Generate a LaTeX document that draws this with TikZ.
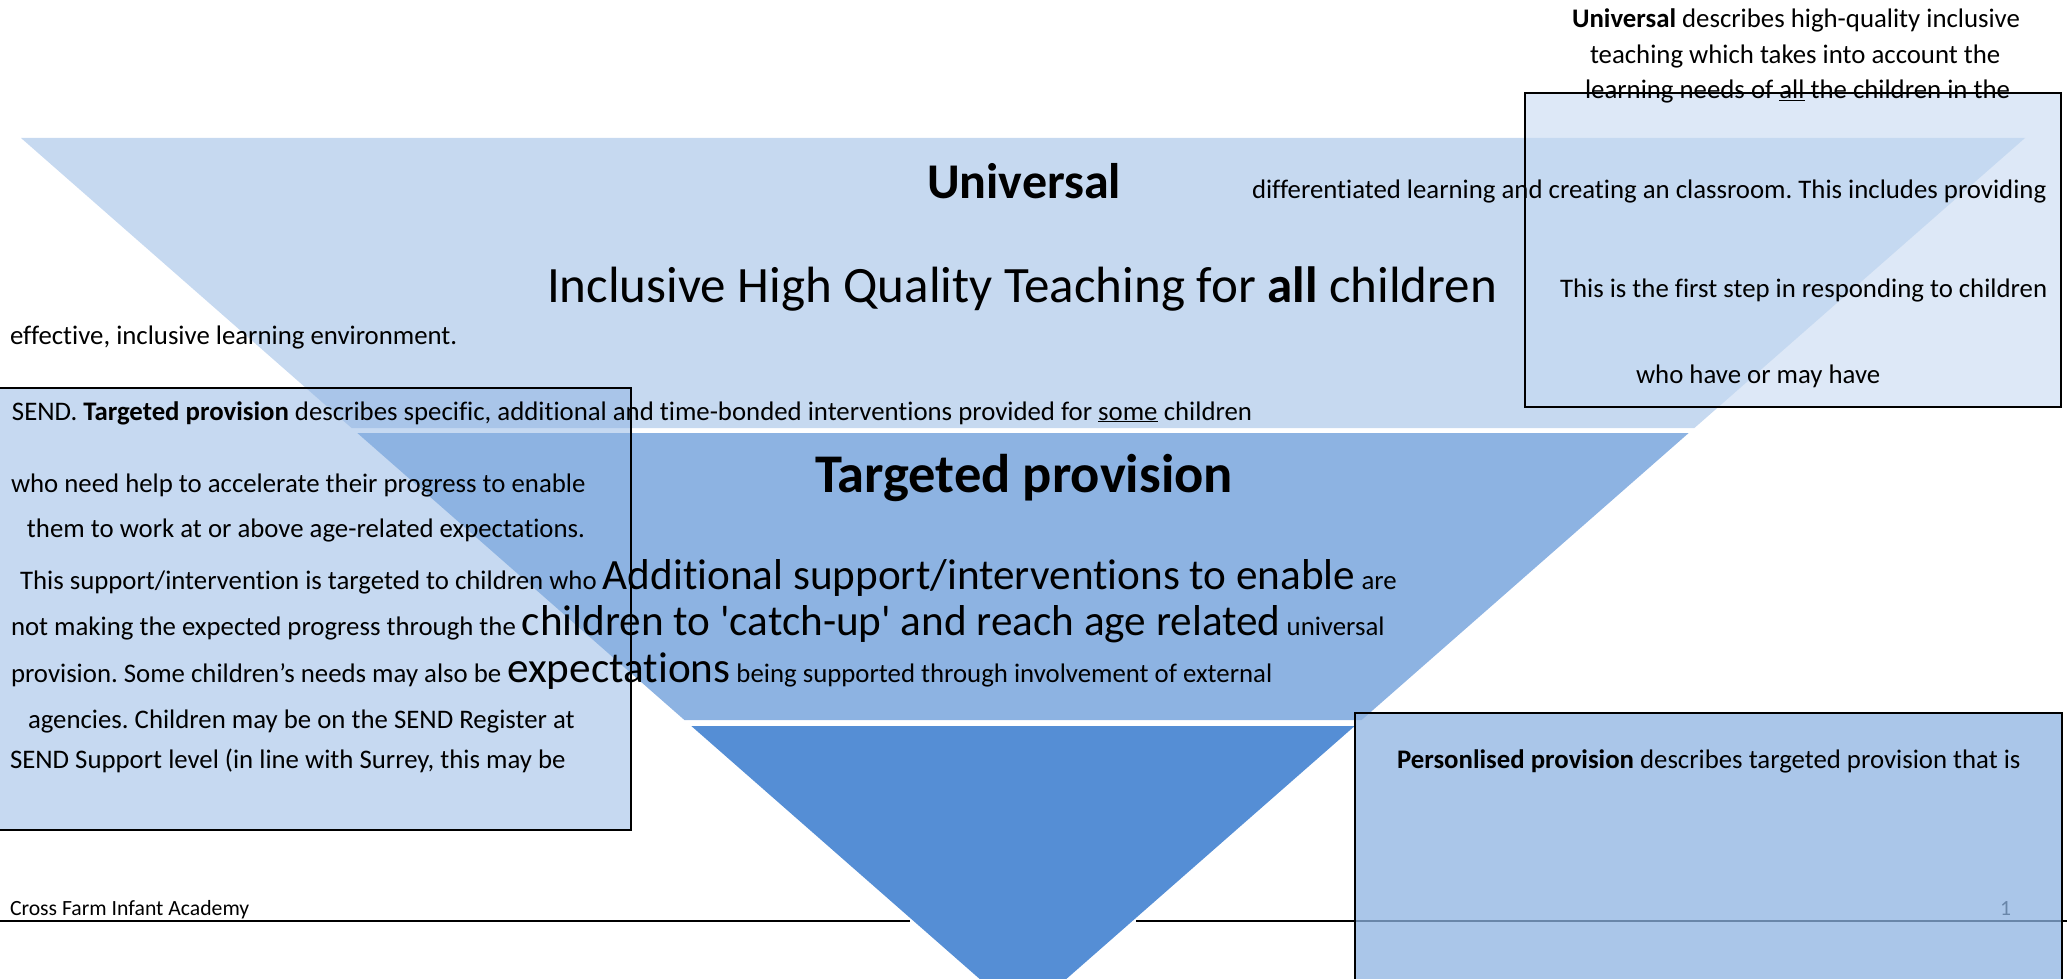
\documentclass[tikz,border=0pt]{standalone}
\usepackage{fontspec}
\setmainfont{Carlito}[Ligatures={TeX,NoCommon}]
\frenchspacing
\definecolor{paleblue}{HTML}{C6D9F1}
\definecolor{midblue}{HTML}{8DB3E2}
\definecolor{deepblue}{HTML}{558ED5}
\newcommand{\sq}{\textquotesingle}
\newcommand{\bandbig}{\fontsize{43.2}{48}\selectfont}
\begin{document}
\begin{tikzpicture}[x=1pt,y=-1pt,
  txt/.style={anchor=base west, inner sep=0pt, outer sep=0pt, text=black},
  small/.style={txt, font=\fontsize{26.8}{30}\selectfont},
  foot/.style={txt, font=\fontsize{21.7}{25}\selectfont},
  title/.style={txt, font=\fontsize{50}{56}\selectfont\bfseries},
  boxline/.style={draw=black, line width=2pt},
]
\useasboundingbox (0,0) rectangle (2067,979);

% left description panel (under the pyramid)
\fill[paleblue] (-2,388) rectangle (631,830);

% pyramid bands: top y=138, apex (1023,1017)
\fill[midblue, fill opacity=0.5] (21,138) -- (2025,138) -- (1694.4,428) -- (351.6,428) -- cycle;
\fill[midblue] (357.3,433) -- (1688.7,433) -- (1361.6,720) -- (684.4,720) -- cycle;
\fill[deepblue] (691.3,726) -- (1354.7,726) -- (1023,1017) -- cycle;

% universal description panel
\fill[paleblue, fill opacity=0.6] (1525,93) rectangle (2061,407);

% footer rule, broken around the pyramid tip
\draw[black, line width=2pt] (0,921) -- (910,921);
\draw[black, line width=2pt] (1136,921) -- (2067,921);
\node[foot] (pagenum) at (2000,915) {1};

% personalised description panel
\fill[midblue, fill opacity=0.75] (1355,713) rectangle (2062,990);

% panel frames
\draw[boxline] (-2,388) rectangle (631,830);
\draw[boxline] (1525,93) rectangle (2061,407);
\draw[boxline] (1355,713) rectangle (2062,990);

% universal description
\node[small] (u1) at (1572,28) {\textbf{Universal} describes high-quality inclusive};
\node[small] (u2) at (1590,64) {teaching which takes into account the};
\node[small] (u3) at (1585,99) {learning needs of \underline{all} the children in the};
\node[small] (u4) at (1252,198) {differentiated learning and creating an classroom. This includes providing};
\node[small] (u5) at (1560,297) {This is the first step in responding to children};
\node[small] (u6) at (1636,383) {who have or may have};
\node[small] (u7) at (10,344) {effective, inclusive learning environment.};

% pyramid headings
\node[title] (universal) at (927,198) {Universal};
\node[txt, font=\fontsize{51}{56}\selectfont] (inclusive) at (547,302) {Inclusive High Quality Teaching for \textbf{all} children};
\node[txt, font=\fontsize{54.5}{60}\selectfont\bfseries] (targeted) at (815,492) {Targeted provision};

% targeted description, interleaved with the band text
\node[small] (t1) at (12,420) {SEND. \textbf{Targeted provision} describes specific, additional and time-bonded interventions provided for \underline{some} children};
\node[small] (t2) at (11,492) {who need help to accelerate their progress to enable};
\node[small] (t3) at (27,537) {them to work at or above age-related expectations.};
\node[small] (t4) at (20,589) {This support/intervention is targeted to children who {\bandbig Additional support/interventions to enable} are};
\node[small] (t5) at (11,635) {not making the expected progress through the {\bandbig children to \sq catch-up\sq{} and reach age related} universal};
\node[small] (t6) at (11,682) {provision. Some children’s needs may also be {\bandbig expectations} being supported through involvement of external};
\node[small] (t7) at (28,728) {agencies. Children may be on the SEND Register at};
\node[small] (t8) at (10,768) {SEND Support level (in line with Surrey, this may be};

% personalised description
\node[small] (p1) at (1397,768) {\textbf{Personlised provision} describes targeted provision that is};

% footer
\node[foot] (school) at (10,915) {Cross Farm Infant Academy};
\end{tikzpicture}
\end{document}
